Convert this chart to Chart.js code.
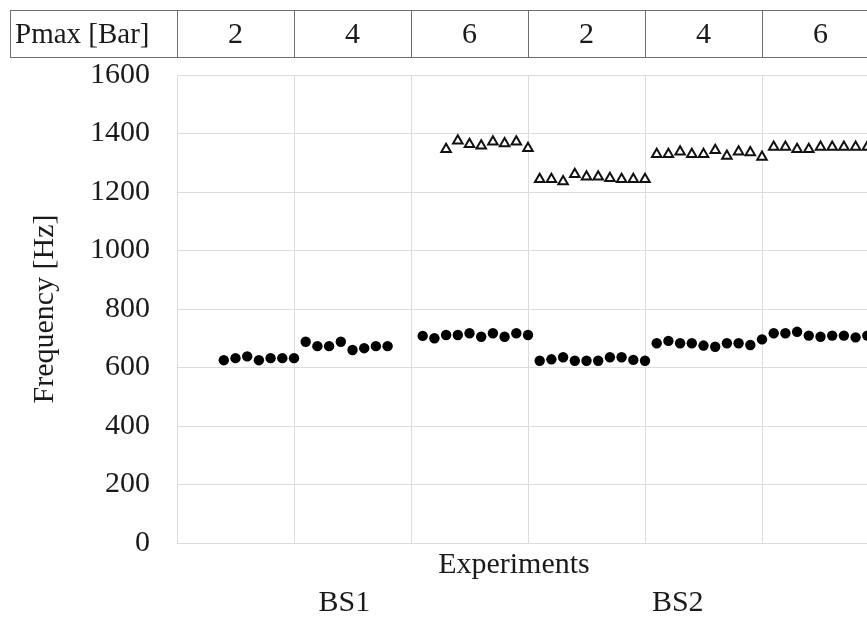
<!DOCTYPE html>
<html>
<head>
<meta charset="utf-8">
<script src="https://cdn.jsdelivr.net/npm/chart.js@4/dist/chart.umd.min.js"></script>
<style>
    body { margin: 0; background: #fff; overflow: hidden; width: 867px; height: 618px; }
    #wrap { position: relative; width: 890px; height: 618px; }
</style>
</head>
<body>
<div id="wrap"><canvas id="freqChart"></canvas></div>
<script>
// Header row: max pressure for each block of ten experiments
const pressureLabels = ['2', '4', '6', '2', '4', '6'];
const setupLabels = ['BS1', 'BS2'];
const yTicks = [0, 200, 400, 600, 800, 1000, 1200, 1400, 1600];

// Lower frequency (filled circles)
const lowX = [4, 5, 6, 7, 8, 9, 10,
    11, 12, 13, 14, 15, 16, 17, 18,
    21, 22, 23, 24, 25, 26, 27, 28, 29, 30,
    31, 32, 33, 34, 35, 36, 37, 38, 39, 40,
    41, 42, 43, 44, 45, 46, 47, 48, 49, 50,
    51, 52, 53, 54, 55, 56, 57, 58, 59];
const lowHz = [625, 632, 638, 625, 632, 632, 632,
    688, 673, 673, 688, 660, 666, 673, 673,
    708, 700, 711, 711, 717, 705, 717, 705, 717, 711,
    623, 628, 635, 623, 623, 623, 635, 635, 626, 623,
    683, 691, 683, 683, 675, 671, 683, 683, 677, 696,
    717, 717, 722, 709, 705, 709, 709, 703, 709];

// Higher frequency (open triangles)
const highX = [23, 24, 25, 26, 27, 28, 29, 30,
    31, 32, 33, 34, 35, 36, 37, 38, 39, 40,
    41, 42, 43, 44, 45, 46, 47, 48, 49, 50,
    51, 52, 53, 54, 55, 56, 57, 58, 59];
const highHz = [1346, 1375, 1363, 1358, 1372, 1366, 1372, 1350,
    1244, 1244, 1236, 1261, 1252, 1252, 1247, 1244, 1244, 1244,
    1329, 1329, 1338, 1329, 1329, 1343, 1323, 1338, 1335, 1320,
    1354, 1354, 1346, 1346, 1354, 1354, 1354, 1354, 1354];

const serif = 'Liberation Serif';
const gridColor = '#dcdcdc';

function toPoints(xs, ys) {
    return xs.map((x, i) => ({ x: x, y: ys[i] }));
}

// Pressure table above the plot and the labels under it
const tablePlugin = {
    id: 'pressureTable',
    afterDraw(chart) {
        const ctx = chart.ctx;
        const xs = chart.scales.x;
        const area = chart.chartArea;
        const top = 10, bottom = 57, left = 10.5;
        const edges = [left];
        for (let i = 0; i <= pressureLabels.length; i++) {
            edges.push(Math.round(xs.getPixelForValue(i * 10)) + 0.5);
        }
        ctx.save();
        ctx.strokeStyle = '#6e6e6e';
        ctx.lineWidth = 1;
        ctx.beginPath();
        ctx.moveTo(left, top + 0.5); ctx.lineTo(edges[edges.length - 1], top + 0.5);
        ctx.moveTo(left, bottom + 0.5); ctx.lineTo(edges[edges.length - 1], bottom + 0.5);
        edges.forEach(e => { ctx.moveTo(e, top); ctx.lineTo(e, bottom + 1); });
        ctx.stroke();

        ctx.fillStyle = '#1a1a1a';
        ctx.font = '29px "' + serif + '"';
        ctx.textBaseline = 'middle';
        ctx.textAlign = 'left';
        ctx.fillText('Pmax [Bar]', 15, 35);
        ctx.textAlign = 'center';
        ctx.font = '30px "' + serif + '"';
        pressureLabels.forEach((p, i) => {
            ctx.fillText(p, xs.getPixelForValue(i * 10 + 5), 35);
        });

        // axis caption and setup names
        ctx.fillText('Experiments', xs.getPixelForValue(28.8), area.bottom + 22);
        ctx.fillText(setupLabels[0], xs.getPixelForValue(14.3), area.bottom + 60);
        ctx.fillText(setupLabels[1], xs.getPixelForValue(42.8), area.bottom + 60);
        ctx.restore();
    }
};

const ctx = document.getElementById('freqChart').getContext('2d');
const freqChart = new Chart(ctx, {
    type: 'scatter',
    data: {
        datasets: [{
            label: 'Low',
            data: toPoints(lowX, lowHz),
            pointStyle: 'circle',
            pointRadius: 5.2,
            backgroundColor: '#000',
            borderColor: '#000',
            borderWidth: 0
        }, {
            label: 'High',
            data: toPoints(highX, highHz),
            pointStyle: 'triangle',
            pointRadius: 5.5,
            backgroundColor: '#fff',
            borderColor: '#111',
            borderWidth: 2
        }]
    },
    options: {
        responsive: true,
        maintainAspectRatio: false,
        animation: false,
        layout: { padding: { top: 75, right: 11, left: 0, bottom: 0 } },
        plugins: {
            legend: { display: false },
            tooltip: { enabled: false }
        },
        scales: {
            x: {
                type: 'linear',
                min: 0,
                max: 60,
                ticks: { display: false, stepSize: 10 },
                grid: { color: gridColor, drawTicks: false },
                border: { color: gridColor },
                afterFit(scale) { scale.height = 75; }
            },
            y: {
                min: yTicks[0],
                max: yTicks[yTicks.length - 1],
                afterBuildTicks(scale) {
                    scale.ticks = yTicks.map(v => ({ value: v }));
                },
                ticks: {
                    padding: 27,
                    color: '#1a1a1a',
                    font: { family: serif, size: 30 },
                    callback: v => String(v)
                },
                grid: { color: gridColor, drawTicks: false },
                border: { color: gridColor },
                title: {
                    display: true,
                    text: 'Frequency [Hz]',
                    color: '#1a1a1a',
                    font: { family: serif, size: 30 },
                    padding: { top: 27, bottom: 0 }
                },
                afterFit(scale) { scale.width = 177; }
            }
        }
    },
    plugins: [tablePlugin]
});
</script>
</body>
</html>
